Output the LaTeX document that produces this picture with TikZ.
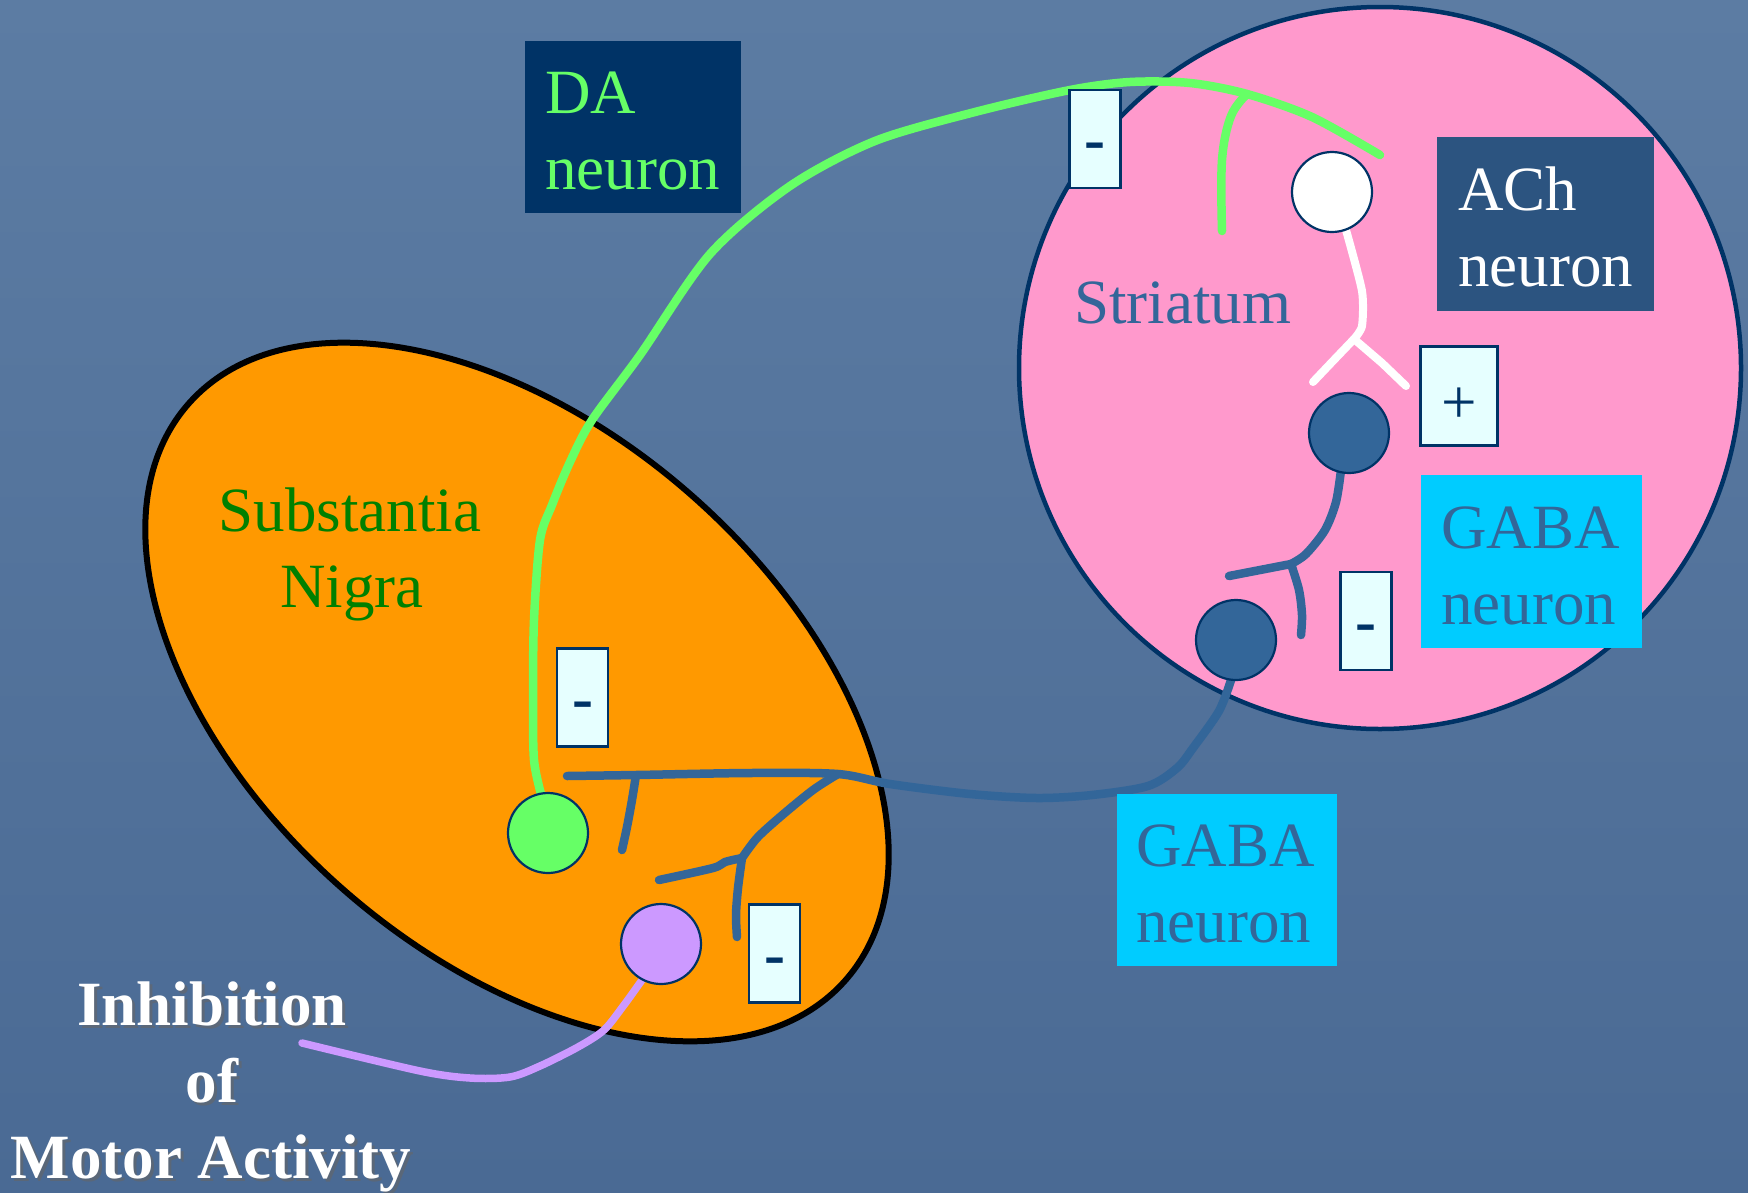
\documentclass[tikz,border=0pt]{standalone}
\usepackage{fontspec}
\setmainfont{Liberation Serif}
\usetikzlibrary{shapes.geometric}
\definecolor{bgtop}{RGB}{92,124,163}
\definecolor{bgbot}{RGB}{74,106,148}
\definecolor{navy}{RGB}{0,51,102}
\definecolor{pinkfill}{RGB}{255,153,204}
\definecolor{orangefill}{RGB}{255,153,0}
\definecolor{dagreen}{RGB}{102,255,102}
\definecolor{steel}{RGB}{51,102,153}
\definecolor{achbox}{RGB}{44,84,128}
\definecolor{gababox}{RGB}{0,204,255}
\definecolor{signfill}{RGB}{230,255,255}
\definecolor{purp}{RGB}{204,153,255}
\definecolor{sngreen}{RGB}{0,128,0}
\begin{document}
\begin{tikzpicture}[x=1pt,y=-1pt,
  txt/.style={font=\fontsize{63}{76}\selectfont, inner sep=0, anchor=base west},
  ctxt/.style={font=\fontsize{63}{76}\selectfont, inner sep=0, anchor=base},
  btxt/.style={font=\fontsize{63}{76}\selectfont\bfseries, inner sep=0, anchor=base},
  tbox/.style={anchor=north west, inner sep=0, draw=none},
  sign/.style={draw=navy, line width=2.5pt, fill=signfill, minimum width=51pt, minimum height=98pt, inner sep=0, font=\fontsize{63}{76}\selectfont\bfseries, text=navy, text height=43pt, text depth=0pt},
  plussign/.style={draw=navy, line width=2.5pt, fill=signfill, minimum width=77pt, minimum height=99pt, inner sep=0, font=\fontsize{63}{76}\selectfont, text=navy, text height=54pt, text depth=0pt},
  neuron/.style={circle, draw=navy, line width=2.2pt, minimum size=80pt, inner sep=0},
  axon/.style={line width=8.5pt, line cap=round, line join=round},
]
% background
\fill[top color=bgtop, bottom color=bgbot] (0,0) rectangle (1748,1192);
\useasboundingbox (0,0) rectangle (1748,1192);

% regions
\node[ellipse, draw=black, line width=6pt, fill=orangefill, minimum width=874pt, minimum height=526pt, inner sep=0, rotate=-41.2] (sn) at (517,692) {};
\node[circle, draw=navy, line width=4.5pt, fill=pinkfill, minimum size=722pt, inner sep=0] (str) at (1380,368) {};

% neurons (positions)
\coordinate (cda) at (548,833);
\coordinate (cpu) at (661,944);
\coordinate (cach) at (1332,192);
\coordinate (cgu) at (1349,433);
\coordinate (cgl) at (1236,640);

% green DA axon
\coordinate (gend) at (1380,155);
\coordinate (gbr) at (1247,94);
\coordinate (gbrend) at (1222,231);
\draw[axon, draw=dagreen] plot[smooth, tension=0.5] coordinates {(541,794) (534,760) (533,700) (534,620) (540,540) (552,505) (570,462) (592,420) (640,355) (710,254) (790,186) (875,141) (975,112) (1070,90) (1130,82) (1190,83) (gbr) (1312,117) (gend)};
\draw[axon, draw=dagreen] plot[smooth, tension=0.6] coordinates {(gbr) (1231,116) (1222,160) (gbrend)};

% white ACh axon
\coordinate (wbr) at (1354,339);
\coordinate (wl) at (1313,382);
\coordinate (wr) at (1406,386);
\draw[axon, draw=white, line width=8pt] plot[smooth, tension=0.4] coordinates {(1346,230) (1362,291) (1362,326) (wbr)};
\draw[axon, draw=white, line width=8pt] (wbr) -- (1332,362) -- (wl);
\draw[axon, draw=white, line width=8pt] (wbr) -- (1382,363) -- (wr);

% blue GABA axon in striatum
\coordinate (ubr) at (1291,564);
\coordinate (ul) at (1229,576);
\coordinate (ud) at (1301,635);
\draw[axon, draw=steel] plot[smooth, tension=0.5] coordinates {(1341,470) (1336,502) (1325,530) (1306,554) (ubr)};
\draw[axon, draw=steel] (ubr) -- (ul);
\draw[axon, draw=steel] plot[smooth, tension=0.5] coordinates {(ubr) (1299,590) (1302,615) (ud)};

% blue GABA axon to substantia nigra
\coordinate (bl) at (567,776);
\coordinate (bj) at (838,774);
\coordinate (bt) at (636,775);
\coordinate (btd) at (622,850);
\coordinate (bdj) at (742,858);
\coordinate (bdl) at (659,880);
\coordinate (bdd) at (737,937);
\draw[axon, draw=steel] plot[smooth, tension=0.5] coordinates {(1231,680) (1219,711) (1193,748) (1177,768) (1148,786) (1092,795) (1037,798) (970,794) (890,784) (bj) (750,773) (bt) (bl)};
\draw[axon, draw=steel] plot[smooth, tension=0.5] coordinates {(bt) (632,800) (627,827) (btd)};
\draw[axon, draw=steel] plot[smooth, tension=0.5] coordinates {(bj) (813,790) (780,817) (757,838) (bdj)};
\draw[axon, draw=steel] plot[smooth, tension=0.5] coordinates {(bdj) (725,862) (713,868) (bdl)};
\draw[axon, draw=steel] plot[smooth, tension=0.5] coordinates {(bdj) (738,888) (736,915) (bdd)};

% purple output axon
\coordinate (pend) at (302,1043);
\draw[axon, draw=purp, line width=7.5pt] plot[smooth, tension=0.5] coordinates {(642,980) (624,1005) (604,1030) (578,1047) (540,1066) (510,1077) (470,1078) (420,1071) (pend)};

% neuron bodies
\node[neuron, fill=dagreen] (da) at (cda) {};
\node[neuron, fill=purp] (pu) at (cpu) {};
\node[neuron, fill=white] (ach) at (cach) {};
\node[neuron, fill=steel] (gu) at (cgu) {};
\node[neuron, fill=steel] (gl) at (cgl) {};

% label boxes
\node[tbox, fill=navy, minimum width=216pt, minimum height=172pt] (dabox) at (525,41) {};
\node[tbox, fill=achbox, minimum width=217pt, minimum height=174pt] (achbox) at (1437,137) {};
\node[tbox, fill=gababox, minimum width=221pt, minimum height=173pt] (gababoxa) at (1421,475) {};
\node[tbox, fill=gababox, minimum width=220pt, minimum height=172pt] (gababoxb) at (1117,794) {};

% sign boxes
\node[sign] (s1) at (1095,139) {-};
\node[plussign] (s2) at (1459,396) {+};
\node[sign] (s3) at (1366,621) {-};
\node[sign] (s4) at (582.5,697.5) {-};
\node[sign] (s5) at (774.5,953.5) {-};

% texts
\node[txt, text=dagreen] (t1) at (545,113) {DA};
\node[txt, text=dagreen] (t2) at (545,189) {neuron};
\node[txt, text=white] (t3) at (1458,210) {ACh};
\node[txt, text=white] (t4) at (1458,286) {neuron};
\node[txt, text=steel] (t5) at (1441,548) {GABA};
\node[txt, text=steel] (t6) at (1441,624) {neuron};
\node[txt, text=steel] (t7) at (1136,866) {GABA};
\node[txt, text=steel] (t8) at (1136,942) {neuron};
\node[txt, text=steel] (t9) at (1074,323) {Striatum};
\node[ctxt, text=sngreen] (t10) at (350,531) {Substantia};
\node[ctxt, text=sngreen] (t11) at (352,607) {Nigra};

\node[btxt, text=black!60, opacity=0.6] (sh1) at (215,1028) {Inhibition};
\node[btxt, text=black!60, opacity=0.6] (sh2) at (215,1105) {of};
\node[btxt, text=black!60, opacity=0.6] (sh3) at (214,1181) {Motor Activity};
\node[btxt, text=white] (t12) at (212,1025) {Inhibition};
\node[btxt, text=white] (t13) at (212,1102) {of};
\node[btxt, text=white] (t14) at (211,1178) {Motor Activity};
\end{tikzpicture}
\end{document}
